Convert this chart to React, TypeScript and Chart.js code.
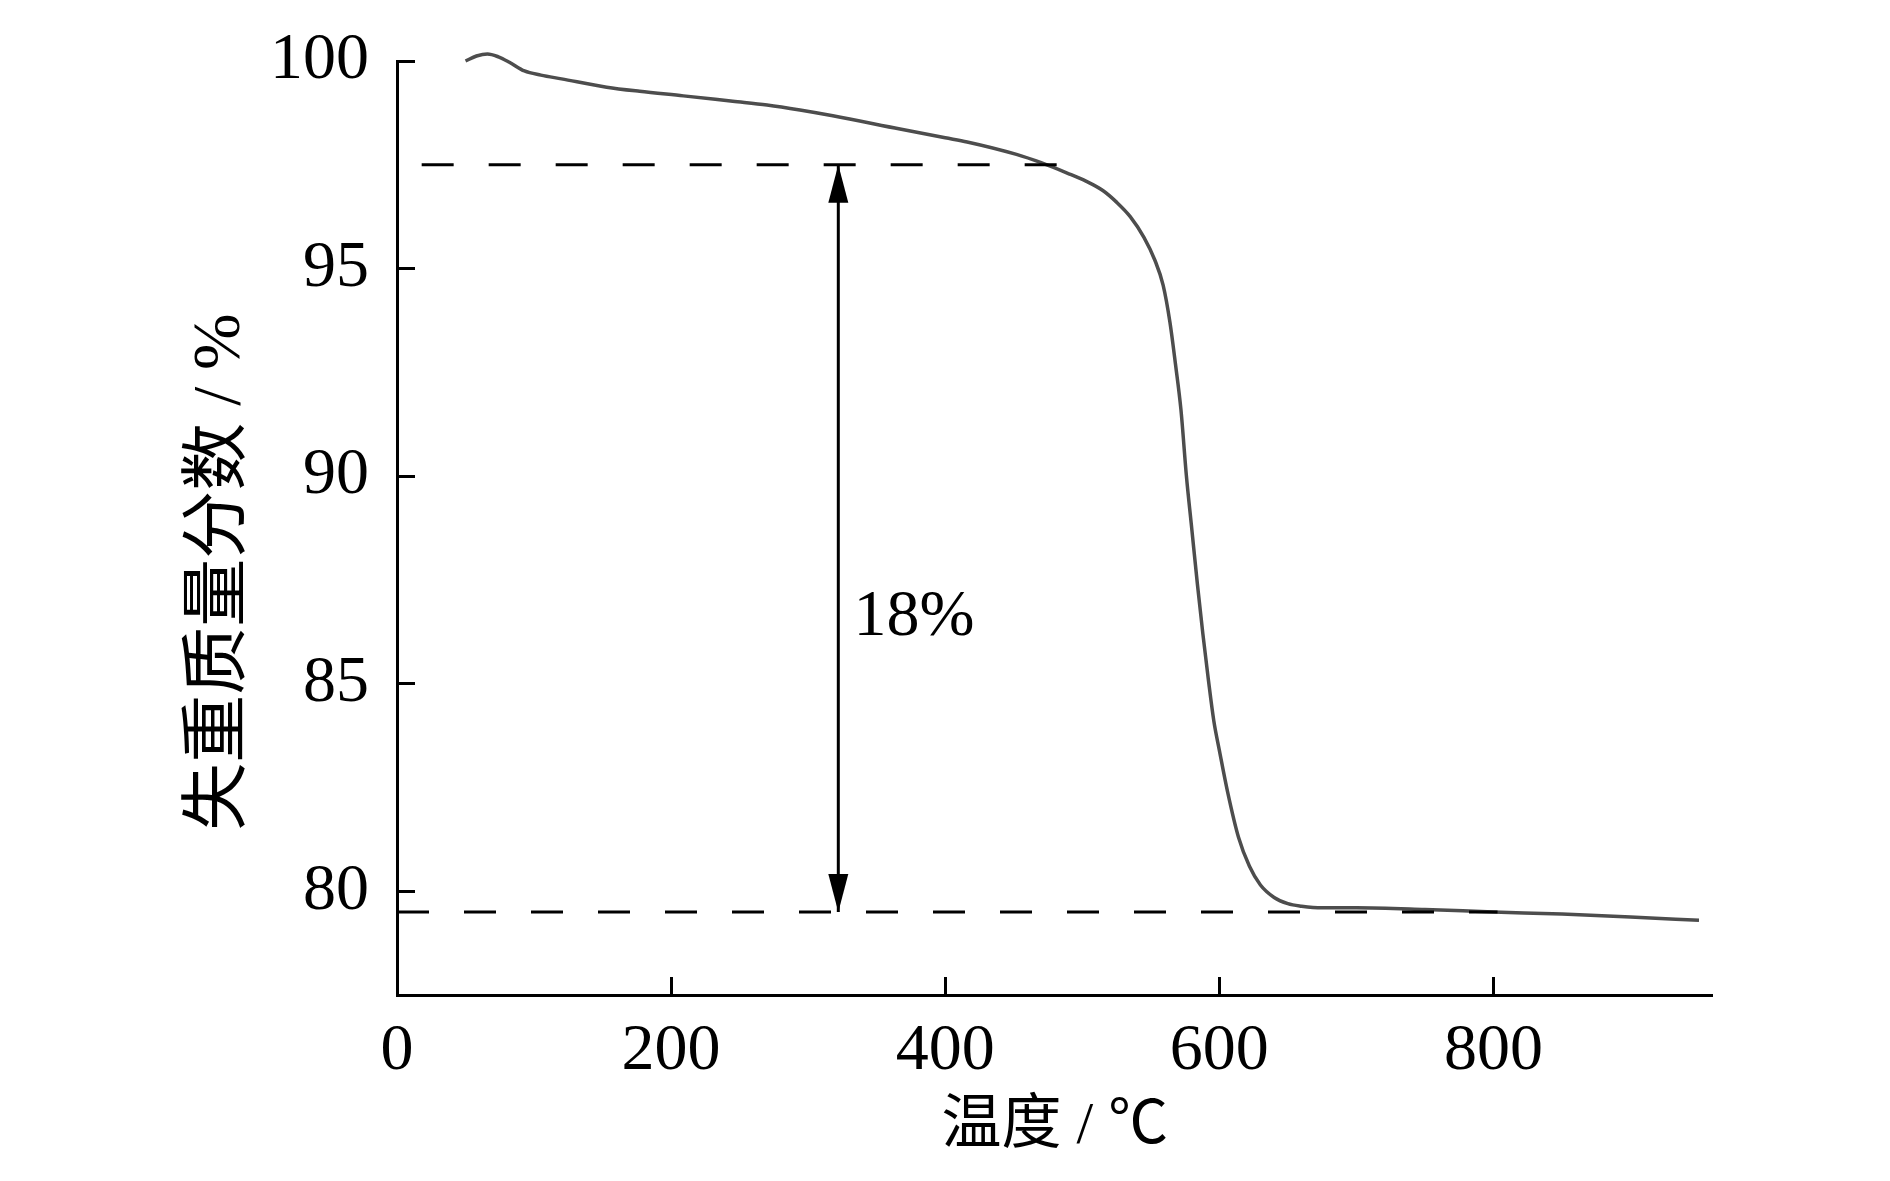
import * as React from "react";
import { useEffect, useRef } from "react";
import { Chart, registerables } from "chart.js";

// TGA curve: temperature (°C) and remaining mass (%)
const temps = [
    50, 58, 66, 74, 82, 93, 105, 120, 153, 177, 209, 245, 270, 294, 318, 367, 400, 416,
    452, 470, 489, 503, 515, 525, 535, 545, 553, 559, 564, 568, 572, 576, 580, 584, 588,
    592, 596, 600, 606, 614, 622, 630, 640, 650, 660, 675, 700, 750, 800, 850, 900, 950
];
const mass = [
    100.0, 100.12, 100.17, 100.1, 99.97, 99.76, 99.66, 99.57, 99.37, 99.27, 99.16, 99.03,
    98.94, 98.82, 98.68, 98.36, 98.15, 98.05, 97.75, 97.55, 97.3, 97.1, 96.88, 96.6, 96.25,
    95.75, 95.2, 94.6, 93.7, 92.7, 91.6, 90.0, 88.7, 87.4, 86.2, 85.1, 84.1, 83.4, 82.4,
    81.3, 80.6, 80.15, 79.85, 79.7, 79.64, 79.6, 79.6, 79.56, 79.5, 79.45, 79.38, 79.3
];

// guide lines and the 18% arrow
const upperLevel = 97.5;
const lowerLevel = 79.5;
const upperSpan = [18, 485];
const lowerSpan = [0, 803];
const arrowTemp = 322;
const lossLabel = "18%";
const lossLabelAt = [333, 86.6];

const xRange = [0, 960];
const yRange = [77.5, 100];
const xTickValues = [0, 200, 400, 600, 800];
const yTickValues = [80, 85, 90, 95, 100];
const xTitle = "温度 / ℃";
const yTitle = "失重质量分数 / %";

const serif = "'Liberation Serif', 'Times New Roman', 'Noto Sans CJK SC', serif";

const annotate = {
    id: "annotate",
    afterDatasetsDraw(chart: any) {
        const { ctx, chartArea, scales } = chart;
        const x = scales.x;
        const y = scales.y;
        const ax = x.getPixelForValue(arrowTemp);
        const top = y.getPixelForValue(upperLevel);
        const bot = y.getPixelForValue(lowerLevel);
        ctx.save();
        ctx.fillStyle = "#000";
        // arrow heads
        ctx.beginPath();
        ctx.moveTo(ax, top);
        ctx.lineTo(ax - 10, top + 38);
        ctx.lineTo(ax + 10, top + 38);
        ctx.closePath();
        ctx.fill();
        ctx.beginPath();
        ctx.moveTo(ax, bot);
        ctx.lineTo(ax - 10, bot - 38);
        ctx.lineTo(ax + 10, bot - 38);
        ctx.closePath();
        ctx.fill();

        ctx.font = "66px " + serif;
        ctx.textAlign = "left";
        ctx.textBaseline = "middle";
        ctx.fillText(lossLabel, x.getPixelForValue(lossLabelAt[0]), y.getPixelForValue(lossLabelAt[1]));

        // axis titles
        ctx.textAlign = "center";
        ctx.font = "60px " + serif;
        ctx.fillText(xTitle, (chartArea.left + chartArea.right) / 2, chartArea.bottom + 132);
        ctx.translate(chartArea.left - 176, (chartArea.top + chartArea.bottom) / 2 + 44);
        ctx.rotate(-Math.PI / 2);
        ctx.font = "68px " + serif;
        ctx.fillText(yTitle, 0, 0);
        ctx.restore();
    }
};

function TgaChart() {
    const canvasRef = useRef<HTMLCanvasElement>(null);
    useEffect(() => {
        const ctx = canvasRef.current?.getContext("2d");
        Chart.register(...registerables);

        const curve = temps.map((t, i) => ({ x: t, y: mass[i] }));
        const dashed = { borderColor: "#000", borderWidth: 3, borderDash: [32, 35], pointRadius: 0, fill: false };

        const chart = new Chart(ctx, {
            type: "line",
            data: {
                datasets: [
                    { data: [{ x: upperSpan[0], y: upperLevel }, { x: upperSpan[1], y: upperLevel }], ...dashed },
                    { data: [{ x: lowerSpan[0], y: lowerLevel }, { x: lowerSpan[1], y: lowerLevel }], ...dashed },
                    {
                        data: [{ x: arrowTemp, y: lowerLevel }, { x: arrowTemp, y: upperLevel }],
                        borderColor: "#000", borderWidth: 3, pointRadius: 0, fill: false
                    },
                    {
                        data: curve,
                        borderColor: "#4d4d4d",
                        borderWidth: 3.5,
                        pointRadius: 0,
                        fill: false,
                        clip: 20,
                        cubicInterpolationMode: "monotone"
                    }
                ]
            },
            options: {
                animation: false,
                responsive: true,
                maintainAspectRatio: false,
                layout: { padding: { left: 0, top: 53, right: 169.3, bottom: 0 } },
                plugins: { legend: { display: false }, tooltip: { enabled: false } },
                scales: {
                    x: {
                        type: "linear",
                        min: xRange[0],
                        max: xRange[1],
                        afterFit: (s: any) => {
                            s.height = 178;
                            s.paddingLeft = 0;
                            s.paddingRight = 0;
                        },
                        afterBuildTicks: (s: any) => { s.ticks = xTickValues.map((v) => ({ value: v })); },
                        border: { display: true, color: "#000", width: 3 },
                        grid: { drawOnChartArea: false, drawTicks: true, tickLength: -18, color: "#000", tickWidth: 3 },
                        ticks: { padding: 35, color: "#000", font: { family: serif, size: 66 } }
                    },
                    y: {
                        type: "linear",
                        min: yRange[0],
                        max: yRange[1],
                        afterFit: (s: any) => {
                            s.width = 389;
                            s.paddingTop = 0;
                            s.paddingBottom = 0;
                        },
                        afterBuildTicks: (s: any) => { s.ticks = yTickValues.map((v) => ({ value: v })); },
                        border: { display: true, color: "#000", width: 3 },
                        grid: { drawOnChartArea: false, drawTicks: true, tickLength: -18, color: "#000", tickWidth: 3 },
                        ticks: { padding: 46, color: "#000", font: { family: serif, size: 66 } }
                    }
                }
            },
            plugins: [annotate]
        });

        return () => {
            chart.destroy();
        };
    }, []);

    return (
        <div style={{ position: "relative", width: 1874, height: 1165 }}>
            <canvas ref={canvasRef}></canvas>
        </div>
    );
}

export default function App() {
    return <TgaChart />;
}
